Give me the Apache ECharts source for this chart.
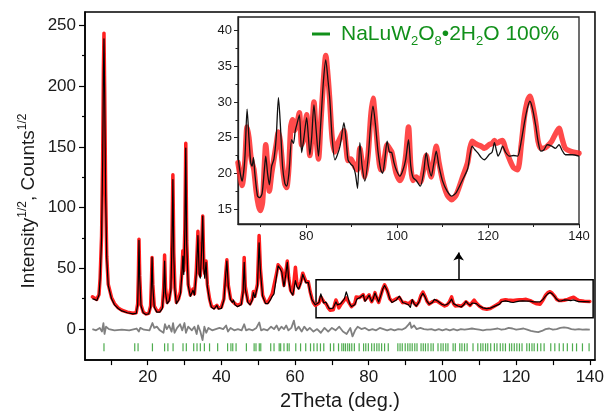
<!DOCTYPE html>
<html>
<head>
<meta charset="utf-8">
<script src="https://cdn.jsdelivr.net/npm/echarts@6/dist/echarts.min.js"></script>
<style>
  html, body { margin: 0; padding: 0; background: #fff; }
  #main { width: 607px; height: 416px; }
</style>
</head>
<body>
<div id="main"></div>
<script>
// calculated profile, 2theta 5-65 (main plot only)
var calcLow = [[5.0,25],[5.6,24.5],[6.2,23.6],[6.8,28],[7.1,41],[7.5,75],[7.8,140],[8.0,210],[8.15,239],[8.35,190],[8.6,110],[8.9,58],[9.3,36],[10.2,25],[11.0,20],[12.0,17],[13.0,15],[14.5,13.5],[16.0,12.5],[16.9,13],[17.3,20],[17.5,45],[17.65,73],[17.85,42],[18.2,19],[18.8,13.5],[19.5,12],[20.3,12.5],[20.8,18],[21.05,40],[21.2,59],[21.4,35],[21.8,18],[22.5,14],[23.3,14],[24.0,17],[24.35,30],[24.6,56],[24.85,30],[25.3,21],[25.8,23],[26.3,32],[26.6,70],[26.85,123],[27.1,60],[27.4,32],[27.8,21],[28.4,24],[28.9,29],[29.3,45],[29.55,60],[29.8,45],[30.1,80],[30.35,149],[30.6,70],[31.0,36],[31.6,27],[32.3,32],[32.7,28],[33.2,45],[33.65,77],[34.0,45],[34.3,42],[34.65,65],[34.95,93],[35.25,50],[35.5,42],[35.85,55],[36.2,35],[36.8,24],[37.3,18],[38.0,16.5],[38.5,17],[38.8,19.5],[39.2,16.5],[40.0,17],[40.7,24],[41.2,45],[41.5,56],[41.9,35],[42.5,24],[43.0,22],[43.3,24],[43.7,20],[44.4,18.5],[45.4,20],[45.9,30],[46.2,55],[46.5,33],[47.2,22],[47.8,20],[48.4,24],[48.7,30],[49.1,26],[49.8,35],[50.25,71],[50.6,48],[51.2,27],[52.0,21],[52.6,21],[53.3,24],[53.8,27],[54.3,29],[55.0,44],[55.4,52],[55.9,50],[56.4,47],[57.0,35],[57.5,45],[57.9,55],[58.3,40],[58.8,31],[59.4,28],[59.7,27],[60.1,40],[60.5,35],[61.0,33],[61.6,38],[62.1,45],[62.6,41],[63.0,38],[63.6,38.5],[64.1,30],[64.6,24]];

// calculated profile, 2theta 65-140 (main plot + inset)
var calcHigh = [[65,22.4],[65.5,20],[65.9,18.9],[66.5,22],[67.0,29],[67.4,25],[67.8,21.5],[68.1,21],[68.4,22.2],[68.7,20],[69.3,16.8],[69.8,16.6],[70.3,17.2],[70.8,20.5],[71.1,22.4],[71.5,20],[71.9,18.4],[72.4,21],[72.9,22],[73.4,25],[73.9,30.6],[74.3,27],[74.8,21],[75.3,18.6],[75.7,18.2],[76.2,20],[76.8,24.7],[77.2,24.2],[77.6,26],[78.0,27],[78.5,28.2],[79.0,22.9],[79.5,25],[80.1,27.8],[80.5,25],[80.8,22.6],[81.2,25],[81.7,29.6],[82.2,26],[82.7,22.4],[83.2,27],[83.8,33],[84.3,35.9],[84.8,33],[85.2,30.3],[85.7,25],[86.3,21.9],[86.8,22.5],[87.5,24],[88.3,27.1],[88.8,24.5],[89.2,21.9],[89.8,21.3],[90.3,21],[90.8,20],[91.3,17.9],[91.8,24.3],[92.3,21],[92.9,18.9],[93.6,22],[94.2,27],[94.7,29.4],[95.2,27],[95.8,23],[96.4,20.5],[96.8,20],[97.3,22],[97.8,24.5],[98.3,23],[98.8,22.9],[99.3,21.5],[99.8,20.5],[100.6,19.6],[101.3,20.5],[101.9,22],[102.5,24.7],[103,21],[103.5,19.4],[104.2,19],[105.1,18.2],[105.8,20],[106.4,22.9],[106.9,21],[107.5,19.6],[108.1,21.5],[108.6,23.1],[109.2,21],[110.0,18.9],[111,17.5],[112,16.8],[113,17.3],[114.4,19.1],[115.5,20.6],[116.0,22.5],[116.5,23.8],[117.1,23.3],[117.7,22.9],[118.5,22.2],[119.2,21.9],[120.2,22.6],[120.9,23],[121.4,24.3],[121.8,23.3],[122.2,22.4],[122.7,23],[123.2,23.8],[123.8,23],[124.7,22.4],[125.6,22.5],[126.5,22.4],[127.3,24.5],[128.0,27.1],[128.6,29],[129.2,30.1],[129.8,29],[130.5,26.6],[131.0,24.5],[131.6,23.1],[132.3,23.3],[133,24],[134,23.8],[134.8,23.5],[135.6,24],[136.3,23.2],[137,22.6],[138.5,22.6],[140,22.4]];

// observed profile
var obsLow = [[5.0,26.6],[5.6,25.5],[6.2,24.5],[6.8,28.5],[7.1,42],[7.5,77],[7.8,142],[8.0,214],[8.15,243.6],[8.35,194],[8.6,113],[8.9,60],[9.3,37],[10.2,26],[11.0,21],[12.0,17.5],[13.0,15.5],[14.5,14],[16.0,13],[16.9,13.5],[17.3,21],[17.5,46],[17.65,74],[17.85,44],[18.2,20],[18.8,14],[19.5,12.5],[20.3,13],[20.8,19],[21.05,41],[21.2,59],[21.4,37],[21.8,19],[22.5,15],[23.3,15],[24.0,18.5],[24.35,34],[24.6,61],[24.85,34],[25.3,22],[25.8,24],[26.3,34],[26.6,73],[26.85,127],[27.1,63],[27.4,34],[27.8,22],[28.4,25],[28.9,31],[29.3,48],[29.55,64.6],[29.8,48],[30.1,83],[30.35,153],[30.6,73],[31.0,37],[31.6,28],[32.3,33],[32.7,29],[33.2,48],[33.65,80.5],[34.0,47],[34.3,44],[34.65,67],[34.95,93],[35.25,52],[35.5,46],[35.85,56],[36.2,37],[36.8,25],[37.3,19],[38.0,17.5],[38.5,18],[38.8,19.5],[39.2,17.5],[40.0,18],[40.7,25],[41.2,46],[41.5,57],[41.9,36],[42.5,25],[43.0,23],[43.3,24.5],[43.7,21],[44.4,19.5],[45.4,21],[45.9,32],[46.2,59],[46.5,35],[47.2,23],[47.8,21],[48.4,25],[48.7,31],[49.1,27],[49.8,37],[50.25,77],[50.6,50],[51.2,28],[52.0,22],[52.6,22],[53.3,26],[53.8,29],[54.3,30],[55.0,46],[55.4,53],[55.9,51],[56.4,49],[57.0,36],[57.5,47],[57.9,56],[58.3,42],[58.8,32],[59.4,29],[59.7,30],[60.1,51],[60.5,38],[61.0,34],[61.6,39],[62.1,46],[62.6,42],[63.0,39],[63.6,39],[64.1,31],[64.6,25]];

var obsHigh = [[65,21.5],[65.5,19.5],[65.9,18.3],[66.5,21.5],[67.0,26.5],[67.4,25],[67.8,22.5],[68.1,21.5],[68.5,20.5],[69.0,17.5],[69.5,15.5],[69.9,14.8],[70.4,16],[70.8,21],[71.1,24],[71.5,21],[71.9,17.5],[72.4,20],[72.9,22],[73.4,24],[73.9,25.8],[74.3,24.5],[74.8,21],[75.3,18.5],[75.7,18],[76.2,21],[76.6,26.5],[77.0,27.5],[77.5,26],[78.0,27],[78.5,28.5],[79.0,24],[79.5,25],[80.1,28.2],[80.5,24.5],[80.8,22.5],[81.2,25],[81.7,30],[82.2,25],[82.7,22],[83.2,27],[83.8,33],[84.3,36.5],[84.8,33.5],[85.2,30],[85.7,25],[86.3,23],[86.8,24],[87.5,25],[88.3,26],[88.8,23.5],[89.2,21.8],[89.8,22],[90.3,21.5],[90.8,20.8],[91.3,20.5],[91.8,23.5],[92.3,21.5],[92.9,19.5],[93.6,22.5],[94.2,28],[94.7,30.5],[95.2,27.5],[95.8,23],[96.4,20.5],[96.8,20.5],[97.3,22.5],[97.8,24],[98.3,23.5],[98.8,23],[99.3,21.5],[99.8,20],[100.6,19],[101.3,20],[101.9,22.5],[102.5,26.5],[103,21],[103.5,19],[104.2,19.5],[105.1,18.8],[105.8,20.5],[106.4,22.5],[106.9,21],[107.5,19.5],[108.1,22],[108.6,23.8],[109.2,21.5],[110.0,19],[111,17],[112,16.3],[113,17],[114.4,19.5],[115.5,21.5],[116.0,23.5],[116.5,24.5],[117.1,24.2],[117.7,24],[118.5,23.8],[119.2,23.5],[120.2,24],[120.9,24.2],[121.4,24.6],[121.8,24.2],[122.2,24.3],[122.7,24.5],[123.2,24.6],[123.8,23.5],[124.7,22],[125.6,20.8],[126.5,20.5],[127.3,24],[128.0,28],[128.6,30],[129.2,30.8],[129.8,29.5],[130.5,27],[131.0,24.5],[131.6,23.5],[132.3,23.5],[133,23.8],[134,24.5],[134.8,25.5],[135.6,26.3],[136.3,24.8],[137,23.5],[138.5,23],[140,22.8]];

// difference curve (obs - calc)
var diffCurve = [[5,0],[6,-1],[7,1],[7.6,-2],[8,5],[8.3,-4],[8.7,2],[9.5,0],[11,-1],[13,-0.5],[15,-1],[17,0.5],[17.6,-2],[18,1],[19,-0.5],[20.5,-1],[21.3,5],[21.8,1],[22.5,2],[23.3,-1],[24.3,-3],[24.7,4],[25.2,0],[25.8,3],[26.5,-2],[26.9,5],[27.3,-3],[28,1],[28.8,4],[29.4,-1],[30,5],[30.4,-3],[31,2],[32,-1],[32.7,2],[33.3,-4],[33.7,3],[34.3,-2],[34.9,-9],[35.4,2],[35.9,-3],[36.5,1],[37.5,-1],[38.5,0],[39.5,1],[40.5,0],[41.3,3],[41.8,-2],[42.5,1],[43.5,-1],[44.5,0],[45.5,-1],[46.2,4],[46.7,-1],[47.5,0],[48.5,-1],[49.5,1],[50.3,5.5],[50.8,-1],[51.5,0],[52.5,-1],[53.5,2],[54.3,0],[55,3],[55.6,-1],[56.3,2],[57,0],[57.6,3],[58.2,-1],[59,1],[59.7,7],[60.2,-1],[61,2],[61.8,-2],[62.5,2],[63.3,-1],[64,1],[65,-2],[66,0],[67,-3],[68,1],[69,-2],[70,1],[71,-1],[72,2],[73,-2],[74,-4],[75,1],[75.6,-6],[76.3,-1],[77,2],[78,0],[79,1],[80,-1],[81,0],[82,-1],[83,1],[84,0],[85,-1],[86,0],[87,-1],[88,0],[89,-0.5],[90,1],[90.6,3],[91.2,5.5],[91.6,1],[92.3,3],[93,0],[94,1],[95,0],[96,-0.5],[97,0],[98,-1],[99,0],[100,-1],[101,0],[102,-1],[103,0],[104,-1],[105,0],[106,-0.5],[107,0],[108,0.5],[109,0],[110,-0.5],[111,-1],[112,-0.5],[113,-0.5],[114,0],[115,0.5],[116,-0.5],[117,0],[118,1],[119,0.5],[120,-0.5],[121,0],[122,0.5],[123,-0.5],[124,-1.5],[125,-2],[126,-2.5],[127,-1.5],[128,0],[129,0.5],[130,-0.5],[131,0],[132,1],[133,1.5],[134,1],[135,0],[136,-0.5],[137,0],[138,-0.5],[139,-0.3],[140,-0.5]];

// Bragg reflection positions (2theta)
var braggPos = [8.15,16.5,17.4,21.3,24.6,25.5,26.9,29.6,30.5,32.5,33.4,34.3,35.4,36.8,39.0,41.7,42.6,43.1,44.0,46.8,48.9,49.4,50.3,50.7,53.4,54.3,55.7,56.1,57.0,57.9,58.4,60.2,61.5,62.9,64.2,65.1,66.0,66.9,67.8,69.6,70.5,71.8,72.7,73.2,73.7,74.3,74.8,75.4,76.1,77.4,78.6,79.2,79.9,80.8,81.5,82.2,82.8,83.5,84.3,85.3,87.9,88.5,89.1,89.9,90.6,91.2,91.8,92.5,93.1,94.2,94.8,95.4,96.1,96.9,97.5,98.8,99.6,100.2,100.9,101.5,102.9,103.5,104.7,105.3,106.0,106.7,108.3,109.6,110.4,111.0,111.7,112.3,113.1,114.1,114.8,115.7,116.4,117.1,118.2,118.8,119.5,120.2,120.9,121.6,122.9,123.6,124.3,124.9,125.8,126.7,127.6,129.4,130.5,131.7,132.8,133.9,135.3,136.4,138.0,139.8];
var braggLevel = -15;

// tick values
var mainXTicks = [20, 40, 60, 80, 100, 120, 140];
var mainXMinor = [10, 30, 50, 70, 90, 110, 130];
var mainYTicks = [0, 50, 100, 150, 200, 250];
var mainYMinor = [25, 75, 125, 175, 225];
var insetXTicks = [80, 100, 120, 140];
var insetXMinor = [70, 90, 110, 130];
var insetYTicks = [15, 20, 25, 30, 35, 40];
var insetYMinor = [17.5, 22.5, 27.5, 32.5, 37.5];

// zoom box + arrow in the main plot (data coords)
var zoomBox = [[65.7, 9.4], [140.9, 40.6]];
var arrowLine = [[104.4, 40.6], [104.4, 63]];

var FONT = 'Liberation Sans, Arial, sans-serif';
var GREEN = '#11901a';

var myChart = echarts.init(document.getElementById('main'));

function axisBase(extra) {
    var a = {
        type: 'value',
        splitLine: {show: false},
        axisLine: {show: true, onZero: false, lineStyle: {color: '#000', width: 1.5}},
        axisTick: {show: true, lineStyle: {color: '#000', width: 1.2}},
        axisLabel: {fontFamily: FONT, color: '#1a1a1a'}
    };
    for (var k in extra) a[k] = extra[k];
    return a;
}

var hiddenLine = {show: false, onZero: false};
var braggData = braggPos.map(function (p) { return [p, braggLevel]; });

option = {
    backgroundColor: '#fff',
    animation: false,
    grid: [
        {left: 85, top: 12, right: 9, bottom: 54, show: true, borderColor: '#000', borderWidth: 1.5, backgroundColor: 'transparent'},
        {left: 238, top: 17, right: 28, bottom: 192, show: true, borderColor: '#222', borderWidth: 1.3, backgroundColor: '#fff'}
    ],
    xAxis: [
        axisBase({gridIndex: 0, min: 3, max: 141.4, position: 'bottom',
            axisTick: {customValues: mainXTicks, length: 5, lineStyle: {color: '#000', width: 1.2}},
            axisLabel: {customValues: mainXTicks, fontSize: 17, margin: 9, fontFamily: FONT, color: '#1a1a1a'},
            name: '2Theta (deg.)', nameLocation: 'middle', nameGap: 29,
            nameTextStyle: {fontSize: 20, fontFamily: FONT, color: '#1a1a1a'}}),
        axisBase({gridIndex: 0, min: 3, max: 141.4, position: 'bottom',
            axisLine: hiddenLine,
            axisTick: {customValues: mainXMinor, length: 5, lineStyle: {color: '#000', width: 1.2}},
            axisLabel: {show: false}}),
        axisBase({gridIndex: 1, min: 65, max: 140, position: 'bottom',
            axisLine: {show: true, onZero: false, lineStyle: {color: '#222', width: 1.3}},
            axisTick: {customValues: insetXTicks, length: 4, lineStyle: {color: '#222', width: 1}},
            axisLabel: {customValues: insetXTicks, fontSize: 13, margin: 6, fontFamily: FONT, color: '#1a1a1a'}}),
        axisBase({gridIndex: 1, min: 65, max: 140, position: 'bottom',
            axisLine: hiddenLine,
            axisTick: {customValues: insetXMinor, length: 3, lineStyle: {color: '#222', width: 1}},
            axisLabel: {show: false}})
    ],
    yAxis: [
        axisBase({gridIndex: 0, min: -25.5, max: 261, position: 'left',
            axisTick: {customValues: mainYTicks, length: 6, lineStyle: {color: '#000', width: 1.2}},
            axisLabel: {customValues: mainYTicks, fontSize: 17, margin: 9, fontFamily: FONT, color: '#1a1a1a'}}),
        axisBase({gridIndex: 0, min: -25.5, max: 261, position: 'left',
            axisLine: hiddenLine,
            axisTick: {customValues: mainYMinor, length: 3, lineStyle: {color: '#000', width: 1.2}},
            axisLabel: {show: false}}),
        axisBase({gridIndex: 1, min: 12.9, max: 41.9, position: 'left',
            axisLine: {show: true, onZero: false, lineStyle: {color: '#222', width: 1.3}},
            axisTick: {customValues: insetYTicks, length: 4, lineStyle: {color: '#222', width: 1}},
            axisLabel: {customValues: insetYTicks, fontSize: 13, margin: 6, fontFamily: FONT, color: '#1a1a1a'}}),
        axisBase({gridIndex: 1, min: 12.9, max: 41.9, position: 'left',
            axisLine: hiddenLine,
            axisTick: {customValues: insetYMinor, length: 2.5, lineStyle: {color: '#222', width: 1}},
            axisLabel: {show: false}})
    ],
    graphic: [
        {
            type: 'text', x: 29, y: 201, rotation: Math.PI / 2,
            style: {
                text: '{m|Intensity}{s|1/2}{m|, Counts}{s|1/2}',
                align: 'center', verticalAlign: 'middle',
                rich: {
                    m: {fontSize: 19, fontFamily: FONT, fill: '#1a1a1a', lineHeight: 24, verticalAlign: 'middle'},
                    s: {fontSize: 12, fontFamily: FONT, fill: '#1a1a1a', lineHeight: 8, verticalAlign: 'top'}
                }
            }
        },
        {
            type: 'line', shape: {x1: 312, y1: 34, x2: 330, y2: 34},
            style: {stroke: GREEN, lineWidth: 3}
        },
        {
            type: 'text', x: 341, y: 34,
            style: {
                text: '{m|NaLuW}{s|2}{m|O}{s|8}{m|\u20222H}{s|2}{m|O 100%}',
                align: 'left', verticalAlign: 'middle',
                rich: {
                    m: {fontSize: 21, fontFamily: FONT, fill: GREEN, lineHeight: 28, verticalAlign: 'middle'},
                    s: {fontSize: 13, fontFamily: FONT, fill: GREEN, lineHeight: 10, verticalAlign: 'bottom'}
                }
            }
        }
    ],
    series: [
        {
            name: 'obs', type: 'line', xAxisIndex: 0, yAxisIndex: 0,
            data: obsLow.concat(obsHigh), showSymbol: false, z: 3,
            lineStyle: {color: '#ff1f1f', width: 3.5, join: 'round', cap: 'round'}
        },
        {
            name: 'calc', type: 'line', xAxisIndex: 0, yAxisIndex: 0,
            data: calcLow.concat(calcHigh), showSymbol: false, z: 4,
            lineStyle: {color: '#000', width: 1.2, join: 'round'},
            markArea: {
                silent: true,
                itemStyle: {color: 'rgba(0,0,0,0)', borderColor: '#000', borderWidth: 1.5},
                data: [[{coord: zoomBox[0]}, {coord: zoomBox[1]}]]
            },
            markLine: {
                silent: true, symbol: ['none', 'arrow'], symbolSize: 8,
                label: {show: false},
                lineStyle: {color: '#000', width: 1.5, type: 'solid'},
                data: [[{coord: arrowLine[0]}, {coord: arrowLine[1]}]]
            }
        },
        {
            name: 'diff', type: 'line', xAxisIndex: 0, yAxisIndex: 0,
            data: diffCurve, showSymbol: false, z: 3,
            lineStyle: {color: '#808080', width: 1.8, join: 'round'}
        },
        {
            name: 'bragg', type: 'scatter', xAxisIndex: 0, yAxisIndex: 0,
            data: braggData, symbol: 'rect', symbolSize: [1.2, 8],
            itemStyle: {color: '#2f9e2f', opacity: 0.85}
        },
        {
            name: 'obsInset', type: 'line', xAxisIndex: 2, yAxisIndex: 2,
            data: obsHigh, showSymbol: false, z: 5, smooth: 0.25,
            lineStyle: {color: '#ff2a2a', width: 5.5, opacity: 0.85, join: 'round', cap: 'round'}
        },
        {
            name: 'calcInset', type: 'line', xAxisIndex: 2, yAxisIndex: 2,
            data: calcHigh, showSymbol: false, z: 6, smooth: 0.25,
            lineStyle: {color: '#111', width: 1.3, join: 'round'}
        }
    ]
};

myChart.setOption(option);
</script>
</body>
</html>
